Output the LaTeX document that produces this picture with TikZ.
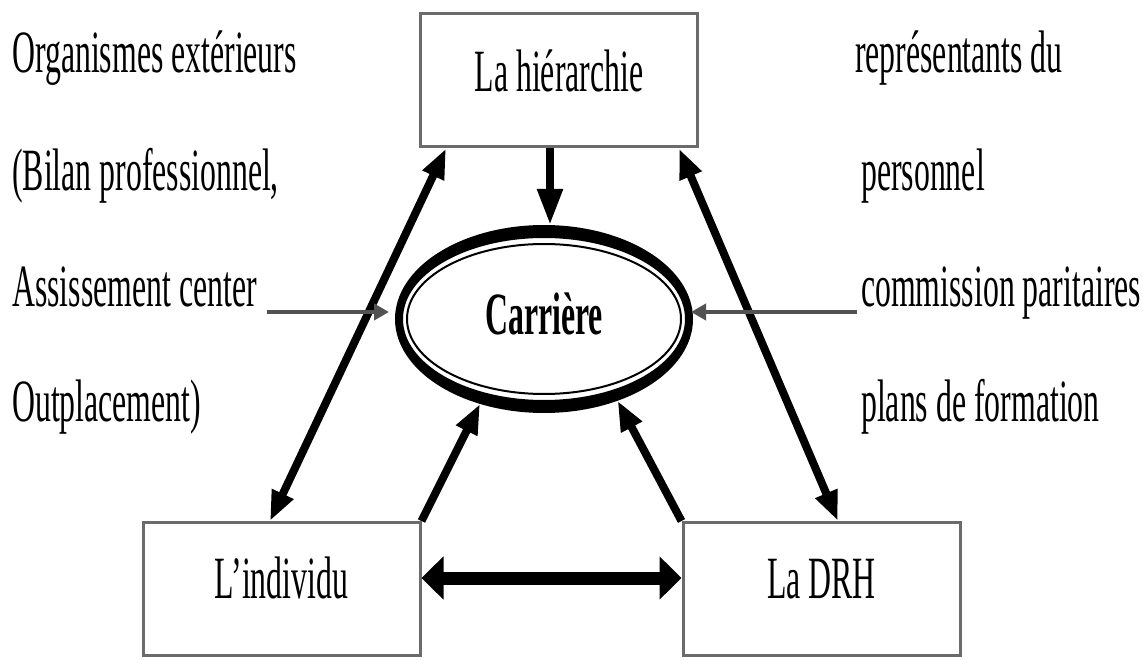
\documentclass[tikz,border=0pt]{standalone}
\usepackage{fontspec}
\setmainfont{Liberation Serif}[FakeStretch=0.53]
\usetikzlibrary{arrows.meta,shapes.geometric}
\begin{document}
\begin{tikzpicture}[x=1pt,y=-1pt,
  bigfont/.style={font=\fontsize{60}{60}\selectfont},
  txt/.style={bigfont,anchor=base west,inner sep=0pt},
  boxnode/.style={bigfont,draw=black!58,line width=3pt,minimum width=277pt,
    minimum height=133pt,inner sep=0pt},
  biglink/.style={line width=8pt,-{Triangle[length=30pt,width=22pt]}},
  bothlink/.style={line width=8pt,{Triangle[length=30pt,width=22pt]}-{Triangle[length=30pt,width=22pt]}},
  wide/.style={line width=13pt,{Triangle[length=22pt,width=42pt]}-{Triangle[length=22pt,width=42pt]}},
  downlink/.style={line width=8pt,-{Triangle[length=36pt,width=24pt]}},
  feed/.style={draw=black!68,line width=4pt,-{Triangle[length=15pt,width=16pt]}},
]
\useasboundingbox (0,0) rectangle (1143,660);
\fill[white] (0,0) rectangle (1143,660);

% the three actors
\node[boxnode] (hier) at (559,80.5) {\raisebox{-11.5pt}[0pt][0pt]{La hiérarchie}};
\node[boxnode] (ind)  at (281.5,589) {\raisebox{-9pt}[0pt][0pt]{L’individu}};
\node[boxnode] (drh)  at (821.5,589) {\raisebox{-9pt}[0pt][0pt]{La DRH}};

% the career: a heavy ring (thicker at top and bottom) with a thin inner line
\node[ellipse,minimum width=298pt,minimum height=188pt,inner sep=0pt,outer sep=0pt,
  bigfont] (car) at (544,319)
  {\raisebox{-16pt}[0pt][0pt]{\bfseries Carrière}};
\fill[even odd rule]
  (car.center) ellipse [x radius=149pt, y radius=94pt]
  (car.center) ellipse [x radius=141pt, y radius=81pt];
\draw[line width=2pt] (car.center) ellipse [x radius=137pt, y radius=75pt];

% side texts
\node[txt] (l1) at (12,73)  {Organismes extérieurs};
\node[txt] (l2) at (12,191) {(Bilan professionnel,};
\node[txt] (l3) at (12,307) {Assissement center};
\node[txt] (l4) at (12,421) {Outplacement)};
\node[txt] (r1) at (855,73)  {représentants du};
\node[txt] (r2) at (861,191) {personnel};
\node[txt] (r3) at (861,307) {commission paritaires};
\node[txt] (r4) at (861,421) {plans de formation};

% links
\draw[downlink] ([xshift=-9pt]hier.south) -- ([xshift=6pt]car.north);
\draw[bothlink] ([xshift=27pt]hier.south west) -- ([xshift=-11.5pt]ind.north);
\draw[bothlink] ([xshift=-20pt]hier.south east) -- ([xshift=16.5pt]drh.north);
\draw[biglink] (ind.north east) -- (car.233);
\draw[biglink] (drh.north west) -- (car.312);
\draw[wide] ([yshift=11pt]ind.east) -- ([yshift=11pt]drh.west);

\coordinate (lt) at ([xshift=-6pt,yshift=7pt]car.west);
\coordinate (rt) at ([xshift=-2pt,yshift=7pt]car.east);
\draw[feed] ([xshift=10pt]lt -| l3.east) -- (lt);
\draw[feed] ([xshift=-4pt]rt -| r3.west) -- (rt);
\end{tikzpicture}
\end{document}
